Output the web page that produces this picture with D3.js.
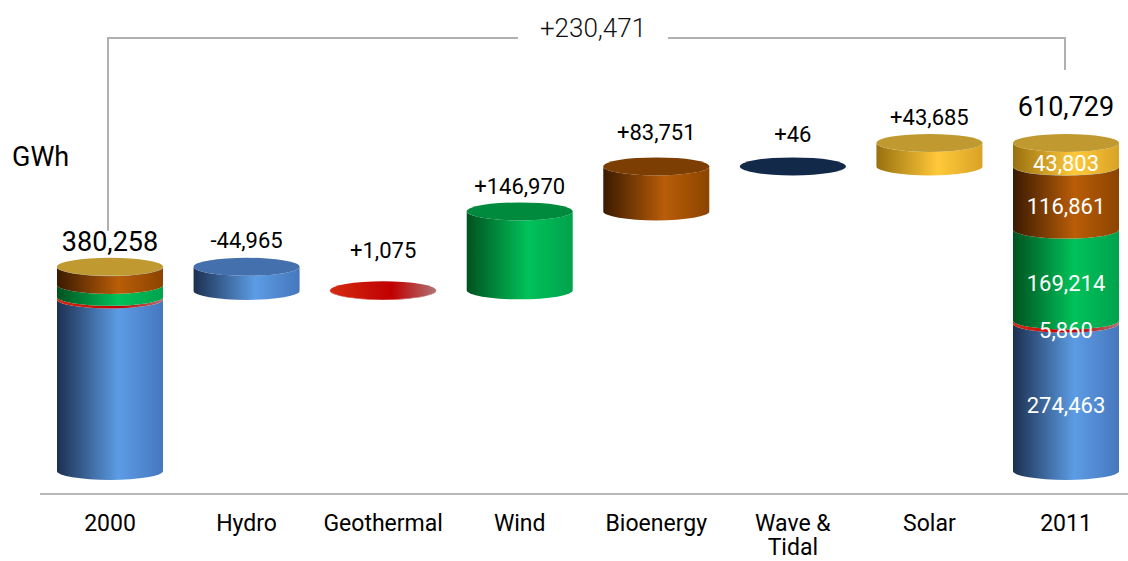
<!DOCTYPE html>
<html>
<head>
<meta charset="utf-8">
<script src="https://cdn.jsdelivr.net/npm/d3@7"></script>
<style>
  body { margin: 0; background: #fff; }
  svg { display: block; font-family: Roboto, "Noto Sans", sans-serif; }
</style>
</head>
<body>
<svg id="chart" width="1128" height="561"></svg>
<script>
// ---- data (GWh) ----
const categories = ["2000", "Hydro", "Geothermal", "Wind", "Bioenergy", "Wave & Tidal", "Solar", "2011"];
const sources = ["Hydro", "Geothermal", "Wind", "Bioenergy", "Wave & Tidal", "Solar"];
const total2000 = 380258;
const total2011 = 610729;
const mix2000 = [319428, 4785, 22244, 33110, 482, 209];
const mix2011 = [274463, 5860, 169214, 116861, 528, 43803];
const changes = [-44965, 1075, 146970, 83751, 46, 43685];
const totalChange = 230471;
const unitLabel = "GWh";

// ---- layout ----
const W = 1128, H = 561;
const rx = 53, ry = 9;
const labelLift = [16, 19, 32, 17, 26, 24, 18, 27]; // label baseline above each bar's top face

const palette = {
  "Hydro":        { dark: "#1c3050", light: "#5c9ce4", edge: "#4677bd", top: "#4470ae" },
  "Geothermal":   { dark: "#d42a12", light: "#c00000", edge: "#b07272", top: "grad" },
  "Wind":         { dark: "#00521f", light: "#00c25a", edge: "#00a24c", top: "#008a3e" },
  "Bioenergy":    { dark: "#3a1a00", light: "#b95d08", edge: "#8c4400", top: "#7c3e02" },
  "Wave & Tidal": { dark: "#12294a", light: "#12294a", edge: "#12294a", top: "#12294a" },
  "Solar":        { dark: "#98700e", light: "#ffc93a", edge: "#d8a226", top: "#c09a30" }
};

const svg = d3.select("#chart");
const defs = svg.append("defs");

sources.forEach((s, i) => {
  const c = palette[s];
  const g = defs.append("linearGradient")
    .attr("id", "side" + i)
    .attr("x1", 0).attr("x2", 1).attr("y1", 0).attr("y2", 0);
  g.append("stop").attr("offset", "0%").attr("stop-color", c.dark);
  g.append("stop").attr("offset", "58%").attr("stop-color", c.light);
  g.append("stop").attr("offset", "100%").attr("stop-color", c.edge);
});

const x = d3.scalePoint().domain(categories).range([110, 1066]);
const y = d3.scaleLinear().domain([0, total2011]).range([471, 143]);

const fmtInt = d3.format(",");
const fmtChange = v => (v < 0 ? "-" : "+") + fmtInt(Math.abs(v));

// one cylinder segment: side wall from v0 to v1, optional top face
function cylinder(g, cx, v0, v1, si, withTop) {
  const yb = y(v0), yt = y(v1);
  const x0 = cx - rx, x1 = cx + rx;
  g.append("path")
    .attr("d", `M${x0},${yt}L${x0},${yb}A${rx},${ry} 0 0 0 ${x1},${yb}L${x1},${yt}A${rx},${ry} 0 0 1 ${x0},${yt}Z`)
    .attr("fill", `url(#side${si})`);
  if (withTop) {
    const top = palette[sources[si]].top;
    g.append("ellipse")
      .attr("cx", cx).attr("cy", yt)
      .attr("rx", rx).attr("ry", ry)
      .attr("fill", top === "grad" ? `url(#side${si})` : top);
  }
}

const bars = svg.append("g");

// stacked totals
function stack(cat, mix, showInner) {
  const cx = x(cat);
  let acc = 0;
  const segs = mix.map((v, i) => { const s = { i, v0: acc, v1: acc + v, v }; acc += v; return s; });
  segs.forEach((s, k) => cylinder(bars, cx, s.v0, s.v1, s.i, k === segs.length - 1));
  if (showInner) {
    segs.filter(s => s.v > 1000).forEach(s => {
      bars.append("text")
        .attr("x", cx).attr("y", (y(s.v0) + y(s.v1)) / 2 + 8 + 8)
        .attr("text-anchor", "middle")
        .attr("fill", "#fff").attr("font-size", 22)
        .text(fmtInt(s.v));
    });
  }
  return acc;
}

stack("2000", mix2000, false);
stack("2011", mix2011, true);

// floating change bars
let level = total2000;
const tops = [];
changes.forEach((d, i) => {
  const lo = Math.min(level, level + d), hi = Math.max(level, level + d);
  cylinder(bars, x(sources[i]), lo, hi, i, true);
  tops.push(hi);
  level += d;
});

// value labels
const labels = svg.append("g").attr("text-anchor", "middle").attr("fill", "#000");
labels.append("text")
  .attr("x", x("2000")).attr("y", y(total2000) - labelLift[0])
  .attr("font-size", 27).text(fmtInt(total2000));
changes.forEach((d, i) => {
  labels.append("text")
    .attr("x", x(sources[i])).attr("y", y(tops[i]) - labelLift[i + 1])
    .attr("font-size", 22).text(fmtChange(d));
});
labels.append("text")
  .attr("x", x("2011")).attr("y", y(total2011) - labelLift[7])
  .attr("font-size", 27).text(fmtInt(total2011));

// unit
svg.append("text").attr("x", 12).attr("y", 166)
  .attr("font-size", 27).attr("fill", "#000").text(unitLabel);

// category axis
svg.append("line")
  .attr("x1", 40).attr("x2", W).attr("y1", 494).attr("y2", 494)
  .attr("stroke", "#b8b8b8").attr("stroke-width", 2);

const axisG = svg.append("g").attr("font-size", 23).attr("text-anchor", "middle").attr("fill", "#000");
categories.forEach(c => {
  const t = axisG.append("text").attr("x", x(c)).attr("y", 531);
  const parts = c === "Wave & Tidal" ? ["Wave &", "Tidal"] : [c];
  parts.forEach((p, k) => t.append("tspan").attr("x", x(c)).attr("dy", k ? 24 : 0).text(p));
});

// overall change bracket
const bx0 = x("2000") - 2, bx1 = x("2011") - 1, by = 38;
const midX = 593;
const totalText = svg.append("text")
  .attr("x", midX).attr("y", by - 1)
  .attr("text-anchor", "middle").attr("font-size", 26).attr("font-weight", 300)
  .attr("fill", "#111").text(fmtChange(totalChange));
const tw = totalText.node().getComputedTextLength();
const gap = 22;
svg.append("path")
  .attr("d", `M${bx0},${y(total2000) - 36}V${by}H${midX - tw / 2 - gap}M${midX + tw / 2 + gap},${by}H${bx1}V${70}`)
  .attr("fill", "none").attr("stroke", "#b0b0b0").attr("stroke-width", 2);
</script>
</body>
</html>
